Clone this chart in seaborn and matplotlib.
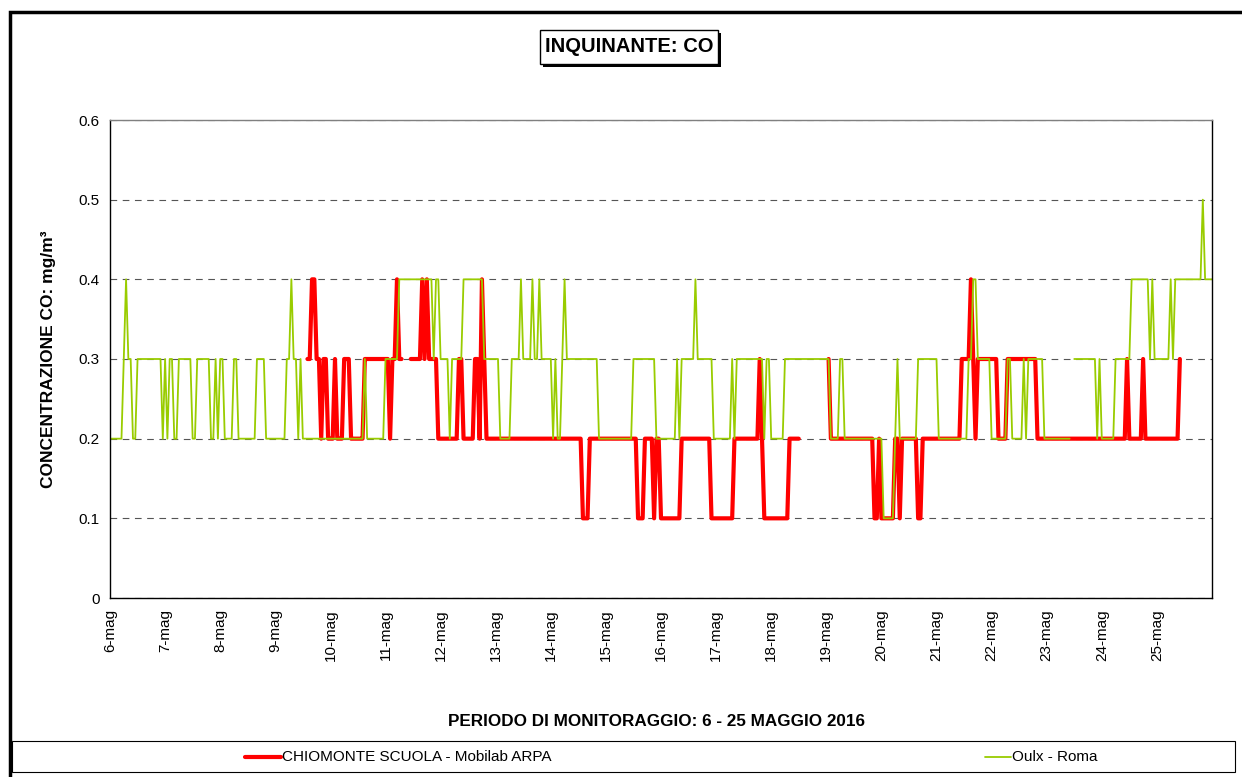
import numpy as np
import pandas as pd
import matplotlib
matplotlib.use("Agg")
import matplotlib.pyplot as plt
import seaborn as sns
from matplotlib.patches import Rectangle
from matplotlib.lines import Line2D

W, H = 1242, 777

giorni = ["6-mag", "7-mag", "8-mag", "9-mag", "10-mag", "11-mag", "12-mag",
          "13-mag", "14-mag", "15-mag", "16-mag", "17-mag", "18-mag", "19-mag",
          "20-mag", "21-mag", "22-mag", "23-mag", "24-mag", "25-mag"]

# medie orarie in decimi di mg/m3, 24 ore per giorno ('-' = dato mancante)
chiomonte = [
    "------------------------",  # 6-mag
    "------------------------",
    "------------------------",
    "--------------3344332332",  # 9-mag
    "223222333222222333333333",
    "33233433---3333343433332",
    "222222223322222332432222",
    "222222222222222222222222",
    "222222222222221112222222",
    "222222222222221112222122",  # 15-mag
    "111111111222222222222211",
    "111111112222222222232111",
    "1111111122222-----------",
    "-32222222222222222222112",
    "111111221222222211222222",  # 20-mag
    "222222222223333432333333",
    "333222233333333333332222",
    "222222222222222222222222",
    "222222222223222222322222",
    "22222222223-------------",  # 25-mag
]

oulx = [
    "222222343322333333333332",  # 6-mag
    "323322333333223333332232",
    "332222332222222233332222",
    "222223343323222222222222",
    "222222222222222322222222",  # 10-mag
    "333333444444444444444344",
    "333323333344444444433333",
    "332222233334333343343333",
    "323223433333333333333222",
    "222222222222333333333322",  # 15-mag
    "222222232333333433333332",
    "222222232333333333333233",
    "222222333333333333333333",
    "332222332222222222222222",
    "211111232222222233333333",  # 20-mag
    "322222222222223344333333",
    "222222233222223233333332",
    "22222222222-333333333323",
    "222222333333344444444343",
    "333333434444444444445444",  # 25-mag
]
oulx_ultimo = "4"  # 26-mag ore 00


def tabella(serie):
    cifre = "".join(serie)
    valori = [np.nan if c == "-" else int(c) / 10 for c in cifre]
    df = pd.DataFrame({"ora": np.arange(len(valori)), "CO": valori})
    df["tratto"] = df["CO"].isna().cumsum()
    return df.dropna()


rosso = tabella(chiomonte)
verde = tabella(oulx + [oulx_ultimo])

sns.set_style("white")
plt.rcParams["font.family"] = ["Liberation Sans", "DejaVu Sans"]
plt.rcParams["text.color"] = "black"
plt.rcParams["axes.labelcolor"] = "black"
plt.rcParams["xtick.color"] = "black"
plt.rcParams["ytick.color"] = "black"

fig = plt.figure(figsize=(W / 100, H / 100), dpi=100)
ax = fig.add_axes([110 / W, 1 - 598 / H, 1102 / W, 478 / H])

sns.lineplot(data=rosso, x="ora", y="CO", units="tratto", estimator=None,
             color="#FF0000", lw=3, ax=ax, legend=False)
sns.lineplot(data=verde, x="ora", y="CO", units="tratto", estimator=None,
             color="#99CC00", lw=1.3, ax=ax, legend=False)

ax.set_xlim(0, 480)
ax.set_ylim(0, 0.6)
ax.set_yticks(np.arange(0, 0.61, 0.1))
ax.set_yticklabels(["0", "0.1", "0.2", "0.3", "0.4", "0.5", "0.6"], fontsize=11)
ax.set_xticks(np.arange(0, 480, 24))
ax.set_xticklabels(giorni, rotation=90, fontsize=11)
ax.tick_params(axis="both", direction="out", length=4, width=0.8, color="black")
ax.tick_params(axis="x", pad=4)
ax.yaxis.grid(True, linestyle=(0, (6, 5)), color="#555555", lw=0.8)
ax.set_axisbelow(True)
for lato, sp in ax.spines.items():
    sp.set_color("black")
    sp.set_linewidth(1.0)
ax.spines["top"].set_color("#808080")
ax.set_xlabel("")
ax.set_ylabel("CONCENTRAZIONE CO: mg/m³", fontsize=12.5, fontweight="bold", labelpad=16)

# cornice esterna
fig.add_artist(Rectangle((10 / W, -20 / H), 1260 / W, (797 - 12) / H,
                         transform=fig.transFigure, fill=False, ec="black", lw=2.5))

# titolo con ombra
fig.add_artist(Rectangle((543 / W, 1 - 67 / H), 178 / W, 34 / H,
                         transform=fig.transFigure, fc="black", ec="black", lw=0))
fig.add_artist(Rectangle((540 / W, 1 - 64 / H), 178 / W, 34 / H,
                         transform=fig.transFigure, fc="white", ec="black", lw=1))
fig.text(629 / W, 1 - 47 / H, "INQUINANTE: CO", ha="center", va="center",
         fontsize=14.5, fontweight="bold")

fig.text(657 / W, 1 - 722 / H, "PERIODO DI MONITORAGGIO: 6 - 25 MAGGIO 2016",
         ha="center", va="center", fontsize=12.3, fontweight="bold")

# legenda
fig.add_artist(Rectangle((12 / W, 1 - 772 / H), 1223 / W, 31 / H,
                         transform=fig.transFigure, fill=False, ec="black", lw=0.8))
yl = 1 - 757 / H
fig.add_artist(Line2D([245 / W, 281 / W], [yl, yl], transform=fig.transFigure,
                      color="#FF0000", lw=3))
fig.text(282 / W, yl, "CHIOMONTE SCUOLA - Mobilab ARPA", va="center", fontsize=11)
fig.add_artist(Line2D([985 / W, 1011 / W], [yl, yl], transform=fig.transFigure,
                      color="#99CC00", lw=1.3))
fig.text(1012 / W, yl, "Oulx - Roma", va="center", fontsize=11)

fig.savefig("out.png", dpi=100)
